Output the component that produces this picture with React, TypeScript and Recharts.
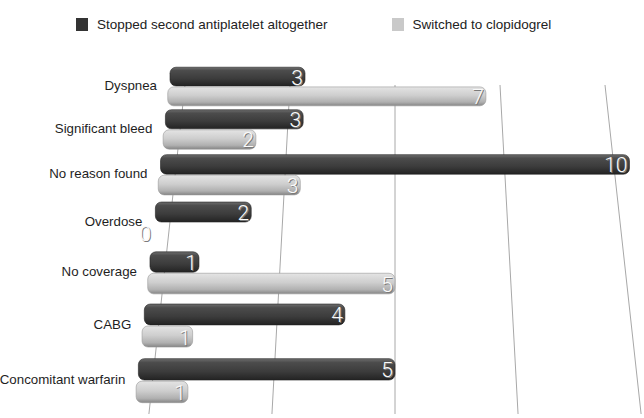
import React from "react";
import { BarChart, Bar, XAxis, YAxis, CartesianGrid, Legend, LabelList } from "recharts";

const categories = [
  "Dyspnea",
  "Significant bleed",
  "No reason found",
  "Overdose",
  "No coverage",
  "CABG",
  "Concomitant warfarin",
];
const stoppedValues = [3, 3, 10, 2, 1, 4, 5];
const switchedValues = [7, 2, 3, 0, 5, 1, 1];
const xTicks = [0, 2.5, 5, 7.5, 10];
const seriesNames = ["Stopped second antiplatelet altogether", "Switched to clopidogrel"];

const data = categories.map((name, i) => ({
  name,
  stopped: stoppedValues[i],
  switched: switchedValues[i],
}));

const W = 644;
const H = 418;
const MARGIN = { top: 62, right: 9, bottom: 13, left: 5 };
const Y_AXIS_W = 150;
const PLOT_LEFT = MARGIN.left + Y_AXIS_W;
const PLOT_W = W - PLOT_LEFT - MARGIN.right;
const CX = PLOT_LEFT + PLOT_W / 2;
const FLAT_UNIT = PLOT_W / 10;
const BAR = 20;
const GAP = 1;
const HALF = (BAR + GAP) / 2;
const FONT = "'Liberation Sans', Arial, Helvetica, sans-serif";

// 3D-view projection helpers (purely visual)
const depthScale = (y: number) => (45 + 0.0215 * (y - 76)) / FLAT_UNIT;
const bendY = (y: number) => y - 0.000509 * (y - 86) * (380 - y);
const gridScale = (y: number) => (42 + 0.02195 * (y - 85)) / FLAT_UNIT;

function projectBar(x: number, y: number, w: number, h: number, sign: number) {
  const yc = y + h / 2 - sign * HALF;
  const pyc = bendY(yc);
  const k = depthScale(pyc + sign * HALF);
  const hh = h * k;
  const cy = pyc + sign * HALF * k;
  const x0 = CX + (x - CX) * k;
  const x1 = CX + (x + w - CX) * k;
  return { x0, x1, y: cy - hh / 2, h: hh, cy };
}

const makeShape = (sign: number, grad: string, edge: string) => (props: any) => {
  const { x, y, width, height } = props;
  const p = projectBar(Number(x), Number(y), Number(width), Number(height), sign);
  const w = p.x1 - p.x0;
  if (!(w > 0)) return <g />;
  const r = Math.min(6, w / 2);
  return (
    <g>
      <rect x={p.x0} y={p.y} width={w} height={p.h} rx={r} ry={r} fill={`url(#${grad})`} />
      <rect x={p.x0} y={p.y} width={w} height={p.h} rx={r} ry={r} fill="none" stroke={edge} strokeWidth={0.6} />
    </g>
  );
};

const makeLabel = (sign: number) => (props: any) => {
  const { x, y, width, height, value } = props;
  const p = projectBar(Number(x), Number(y), Number(width), Number(height), sign);
  const common = {
    textAnchor: "end" as const,
    dominantBaseline: "central" as const,
    fontFamily: "Roboto, 'Liberation Sans', Arial, sans-serif",
    fontWeight: 300,
    fontSize: 21,
  };
  return (
    <g>
      <text x={p.x1 - 1} y={p.cy + 2} {...common} fill="#7a7a7a">
        {value}
      </text>
      <text x={p.x1 - 2} y={p.cy + 1} {...common} fill="#fafafa">
        {value}
      </text>
    </g>
  );
};

const CategoryTick = (props: any) => {
  const { y, payload } = props;
  const py = bendY(y) - 1;
  const k = depthScale(py);
  const x = CX + (PLOT_LEFT - CX) * k - 12;
  return (
    <text x={x} y={py} textAnchor="end" dominantBaseline="central" fontFamily={FONT} fontSize={13.3} fill="#1e1e1e">
      {payload.value}
    </text>
  );
};

const gridLine = (props: any) => {
  const { x1, y1, y2, index } = props;
  const top = Number(y1) + 23;
  const bottom = Number(y2) + 9;
  const xx = Number(x1);
  const xt = CX + (xx - CX) * gridScale(top);
  const xb = CX + (xx - CX) * gridScale(bottom);
  return <line key={`g-${index}-${xx}`} x1={xt} y1={top} x2={xb} y2={bottom} stroke="#a8a8a8" strokeWidth={1} />;
};

const LegendContent = () => (
  <div style={{ display: "flex", alignItems: "center", paddingLeft: 76, fontFamily: FONT, fontSize: 13.5, color: "#222" }}>
    <span style={{ width: 12, height: 13, background: "#333", display: "inline-block" }} />
    <span style={{ marginLeft: 9 }}>{seriesNames[0]}</span>
    <span style={{ width: 12, height: 13, background: "#c9c9c9", display: "inline-block", marginLeft: 65 }} />
    <span style={{ marginLeft: 8 }}>{seriesNames[1]}</span>
  </div>
);

export default function App() {
  return (
    <div style={{ width: W, height: H, position: "absolute", left: 0, top: 0, background: "#fff" }}>
      <BarChart width={W} height={H} data={data} layout="vertical" margin={MARGIN} barSize={BAR} barGap={GAP}>
        <defs>
          <linearGradient id="gDark" x1="0" y1="0" x2="0" y2="1">
            <stop offset="0%" stopColor="#6e6e6e" />
            <stop offset="18%" stopColor="#4c4c4c" />
            <stop offset="60%" stopColor="#3c3c3c" />
            <stop offset="100%" stopColor="#232323" />
          </linearGradient>
          <linearGradient id="gLight" x1="0" y1="0" x2="0" y2="1">
            <stop offset="0%" stopColor="#e4e4e4" />
            <stop offset="45%" stopColor="#cecece" />
            <stop offset="80%" stopColor="#b0b0b0" />
            <stop offset="100%" stopColor="#858585" />
          </linearGradient>
        </defs>
        <CartesianGrid horizontal={false} vertical={gridLine} />
        <XAxis type="number" domain={[0, 10]} ticks={xTicks} interval={0} hide />
        <YAxis
          type="category"
          dataKey="name"
          width={Y_AXIS_W}
          axisLine={false}
          tickLine={false}
          interval={0}
          tick={<CategoryTick />}
        />
        <Legend
          verticalAlign="middle"
          align="center"
          layout="horizontal"
          content={<LegendContent />}
          wrapperStyle={{ top: 17, left: 0, width: W }}
        />
        <Bar dataKey="stopped" name={seriesNames[0]} isAnimationActive={false} shape={makeShape(-1, "gDark", "#222")}>
          <LabelList dataKey="stopped" content={makeLabel(-1)} />
        </Bar>
        <Bar dataKey="switched" name={seriesNames[1]} isAnimationActive={false} shape={makeShape(1, "gLight", "#999")}>
          <LabelList dataKey="switched" content={makeLabel(1)} />
        </Bar>
      </BarChart>
    </div>
  );
}
